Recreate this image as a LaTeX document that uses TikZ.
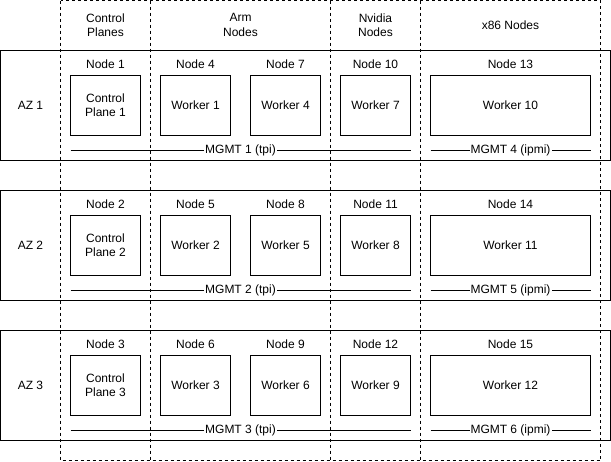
\documentclass[tikz,border=0pt]{standalone}
\usepackage{fontspec}
\setmainfont{Liberation Sans}
\begin{document}
\begin{tikzpicture}[x=1pt,y=-1pt,
  every node/.style={font=\fontsize{12}{14.4}\selectfont, text=black, inner sep=0pt},
  lbl/.style={align=center},
  azbox/.style={draw, line width=1pt, minimum width=610pt, minimum height=110pt},
  srv/.style={draw, line width=1pt, minimum width=70pt, minimum height=60pt, align=center},
  wide/.style={srv, minimum width=160pt},
  col/.style={draw, line width=1pt, dash pattern=on 3pt off 3pt},
  bus/.style={draw, line width=1pt},
  buslbl/.style={fill=white, inner xsep=1pt, inner ysep=1pt}
]
\useasboundingbox (0,0) rectangle (611,461);
% column frames
\draw[col] (60.5,0.5) rectangle (600.5,460.5);
\coordinate (c1t) at (150.5,0.5); \coordinate (c1b) at (150.5,460.5);
\coordinate (c2t) at (330.5,0.5); \coordinate (c2b) at (330.5,460.5);
\coordinate (c3t) at (420.5,0.5); \coordinate (c3b) at (420.5,460.5);
\draw[col] (c1t) -- (c1b);
\draw[col] (c2t) -- (c2b);
\draw[col] (c3t) -- (c3b);
% headers
\node[lbl] (hcp) at (105.5,25) {Control\\Planes};
\node[lbl] (harm) at (240.5,25) {Arm\\Nodes};
\node[lbl] (hnv) at (375.5,25) {Nvidia\\Nodes};
\node[lbl] (hx) at (510.5,25) {x86 Nodes};
\foreach \r/\y in {1/50,2/190,3/330}{
  \pgfmathtruncatemacro{\na}{\r+3}
  \pgfmathtruncatemacro{\nb}{\r+6}
  \pgfmathtruncatemacro{\nc}{\r+9}
  \pgfmathtruncatemacro{\nd}{\r+12}
  \pgfmathtruncatemacro{\ma}{\r+3}
  \node[azbox] (az\r) at (305.5,\y+55.5) {};
  \node (azl\r) at (30.5,\y+55.5) {AZ \r};
  \node (nl\r a) at (105.5,\y+14.5) {Node \r};
  \node (nl\r b) at (195.5,\y+14.5) {Node \na};
  \node (nl\r c) at (285.5,\y+14.5) {Node \nb};
  \node (nl\r d) at (375.5,\y+14.5) {Node \nc};
  \node (nl\r e) at (510.5,\y+14.5) {Node \nd};
  \node[srv] (cp\r) at (105.5,\y+55.5) {Control\\Plane \r};
  \node[srv] (wa\r) at (195.5,\y+55.5) {Worker \r};
  \node[srv] (wb\r) at (285.5,\y+55.5) {Worker \na};
  \node[srv] (wc\r) at (375.5,\y+55.5) {Worker \nb};
  \node[wide] (wd\r) at (510.5,\y+55.5) {Worker \nc};
  \coordinate (ta\r) at (70.5,\y+100.5);
  \coordinate (tb\r) at (410.5,\y+100.5);
  \coordinate (ia\r) at (430.5,\y+100.5);
  \coordinate (ib\r) at (590.5,\y+100.5);
  \draw[bus] (ta\r) -- (tb\r);
  \draw[bus] (ia\r) -- (ib\r);
  \node[buslbl] (tl\r) at (240.5,\y+100.5) {MGMT \r\ (tpi)};
  \node[buslbl] (il\r) at (510.5,\y+100.5) {MGMT \ma\ (ipmi)};
}
\end{tikzpicture}
\end{document}
